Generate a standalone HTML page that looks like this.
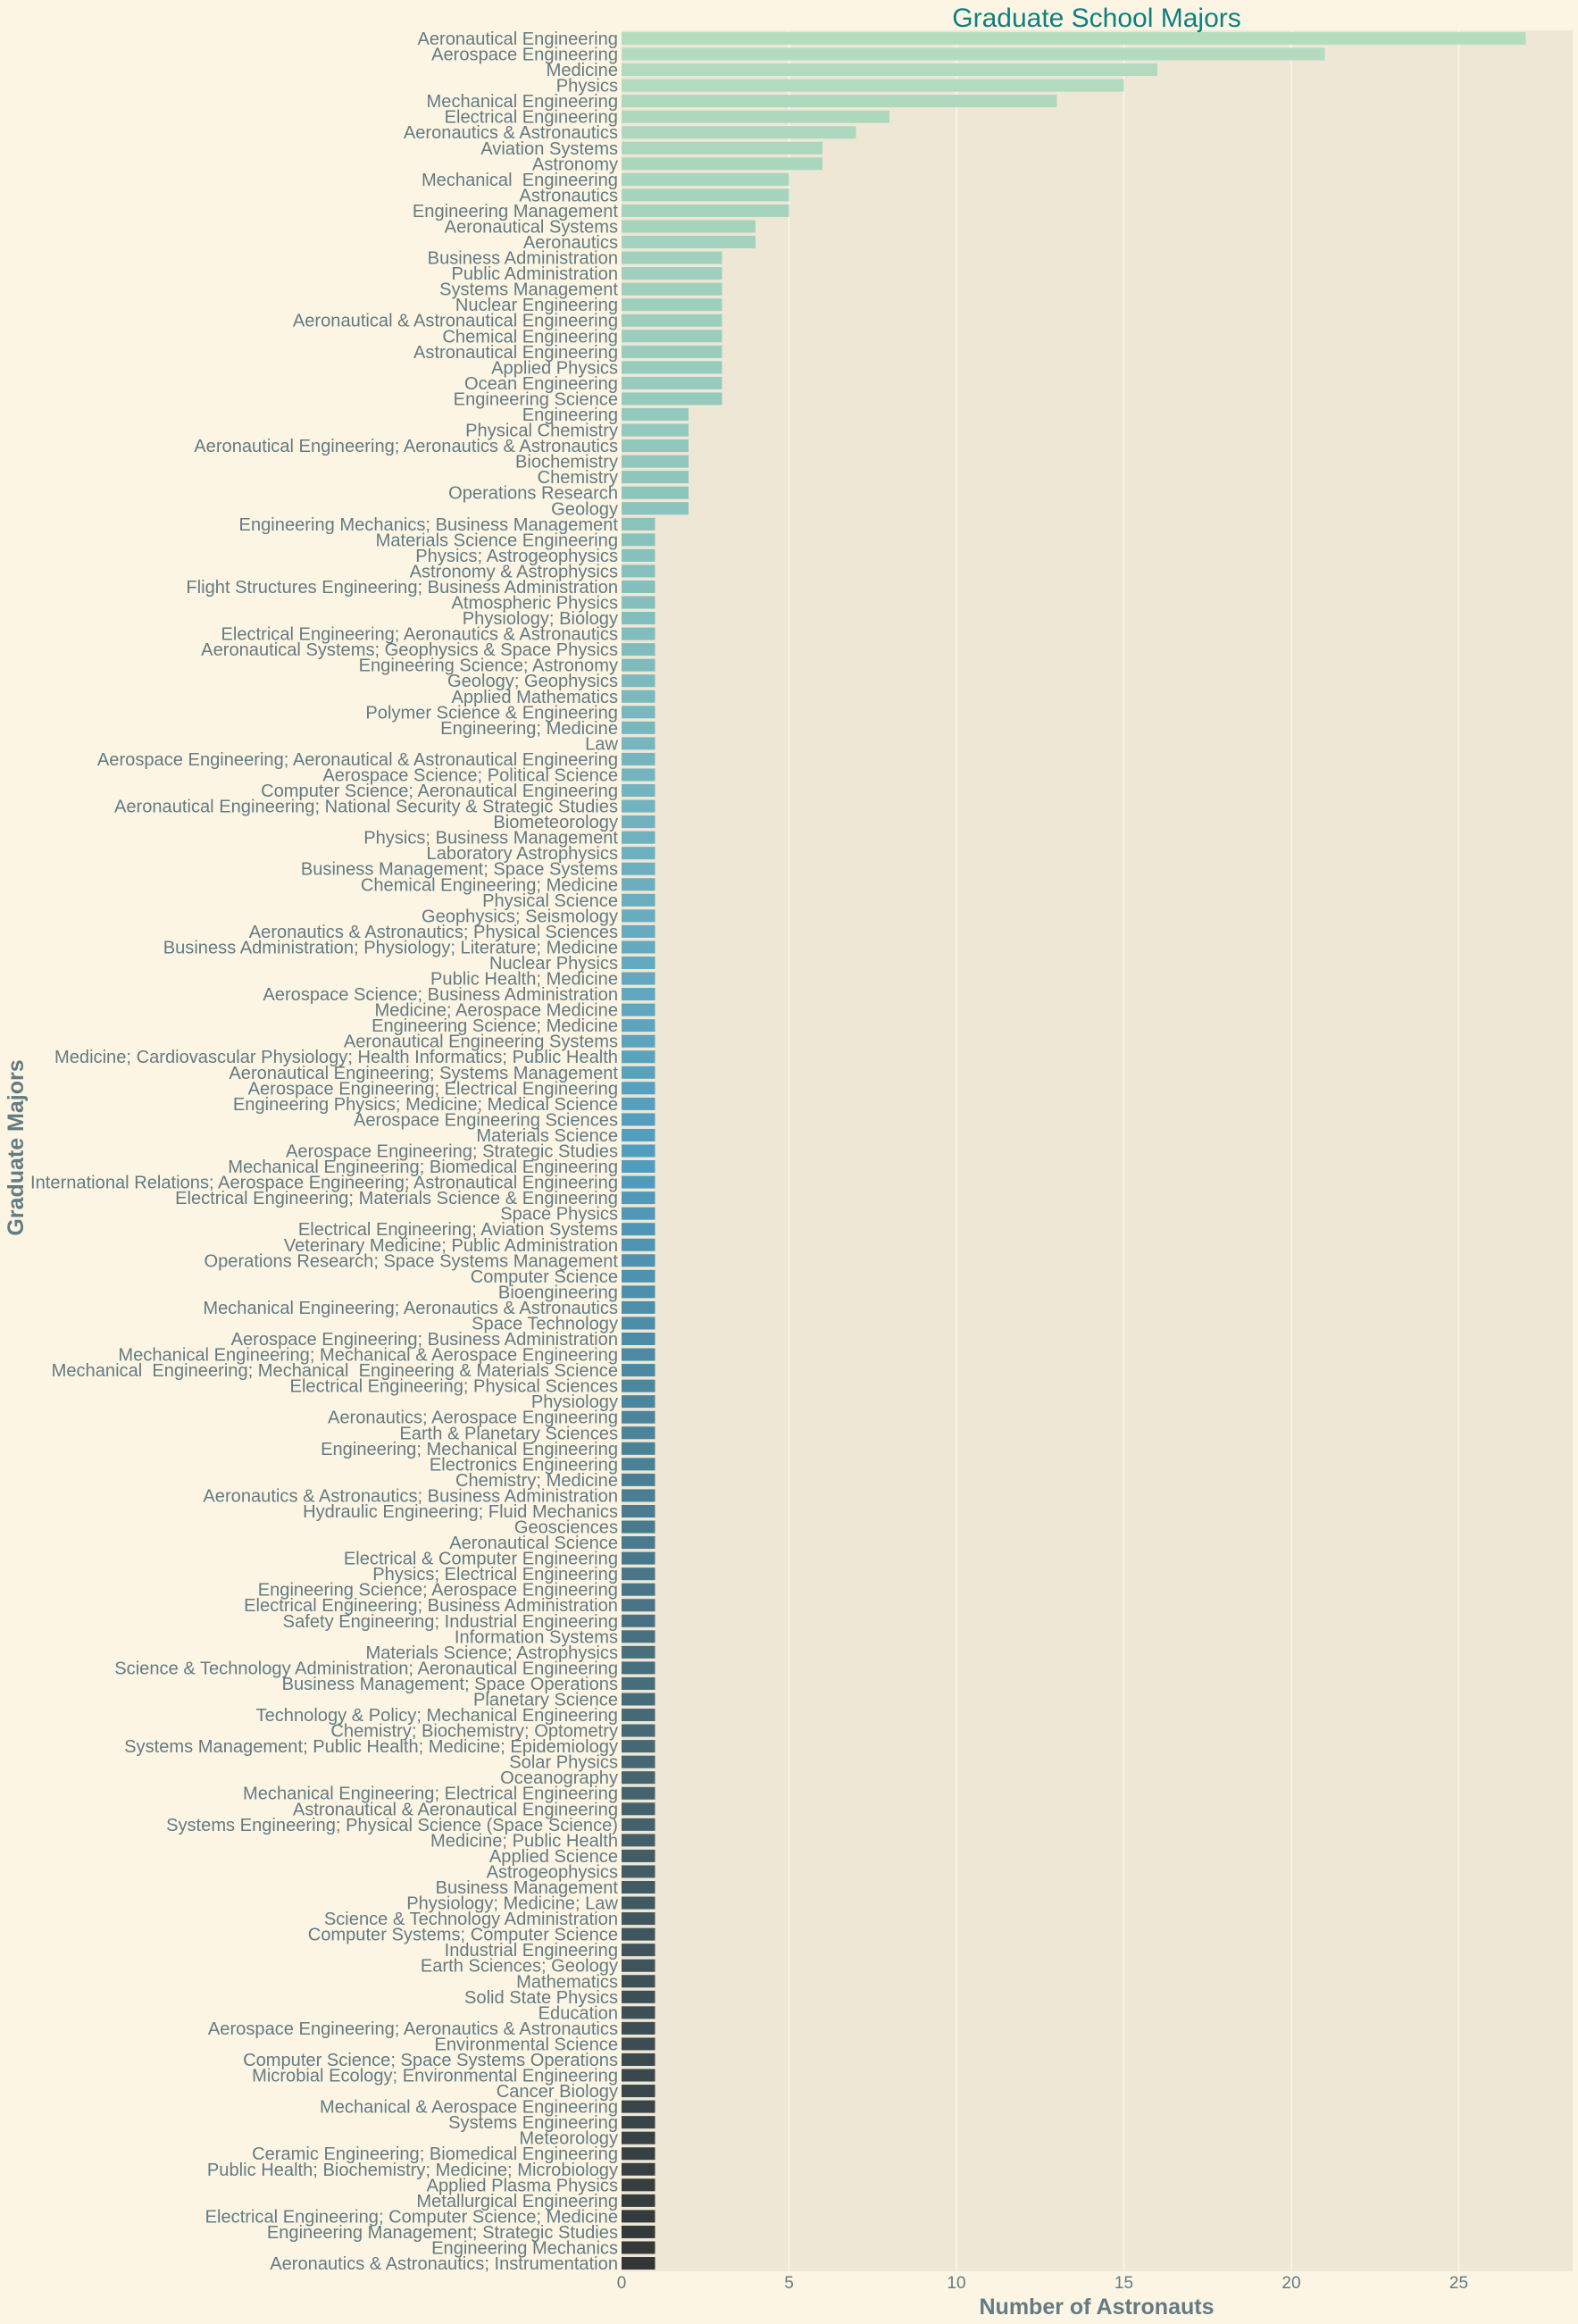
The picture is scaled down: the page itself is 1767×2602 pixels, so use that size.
<!DOCTYPE html>
<html><head><meta charset="utf-8"><title>Graduate School Majors</title>
<style>
html,body{margin:0;padding:0;background:#fdf5e3;}
svg{display:block;font-family:"Liberation Sans",sans-serif;}
</style></head>
<body>
<svg id="chart" width="1767" height="2602" viewBox="0 0 1767 2602" xmlns="http://www.w3.org/2000/svg">
<rect x="0" y="0" width="1767" height="2602" fill="#fdf5e3"/>
<rect id="plotbg" x="696" y="34" width="1065" height="2509" fill="#eee7d6"/>
<g id="grid"></g>
<g id="bars"></g>
<g id="ylabels"></g>
<g id="xlabels"></g>
<text x="1228" y="30" text-anchor="middle" font-size="30" fill="#0e8080">Graduate School Majors</text>
<text x="1228" y="2591" text-anchor="middle" font-size="25" font-weight="bold" fill="#627b84">Number of Astronauts</text>
<text transform="translate(26,1285) rotate(-90)" text-anchor="middle" font-size="25" font-weight="bold" fill="#627b84">Graduate Majors</text>
</svg>
<script>
const categories = ["Aeronautical Engineering","Aerospace Engineering","Medicine","Physics","Mechanical Engineering","Electrical Engineering","Aeronautics & Astronautics","Aviation Systems","Astronomy","Mechanical  Engineering","Astronautics","Engineering Management","Aeronautical Systems","Aeronautics","Business Administration","Public Administration","Systems Management","Nuclear Engineering","Aeronautical & Astronautical Engineering","Chemical Engineering","Astronautical Engineering","Applied Physics","Ocean Engineering","Engineering Science","Engineering","Physical Chemistry","Aeronautical Engineering; Aeronautics & Astronautics","Biochemistry","Chemistry","Operations Research","Geology","Engineering Mechanics; Business Management","Materials Science Engineering","Physics; Astrogeophysics","Astronomy & Astrophysics","Flight Structures Engineering; Business Administration","Atmospheric Physics","Physiology; Biology","Electrical Engineering; Aeronautics & Astronautics","Aeronautical Systems; Geophysics & Space Physics","Engineering Science; Astronomy","Geology; Geophysics","Applied Mathematics","Polymer Science & Engineering","Engineering; Medicine","Law","Aerospace Engineering; Aeronautical & Astronautical Engineering","Aerospace Science; Political Science","Computer Science; Aeronautical Engineering","Aeronautical Engineering; National Security & Strategic Studies","Biometeorology","Physics; Business Management","Laboratory Astrophysics","Business Management; Space Systems","Chemical Engineering; Medicine","Physical Science","Geophysics; Seismology","Aeronautics & Astronautics; Physical Sciences","Business Administration; Physiology; Literature; Medicine","Nuclear Physics","Public Health; Medicine","Aerospace Science; Business Administration","Medicine; Aerospace Medicine","Engineering Science; Medicine","Aeronautical Engineering Systems","Medicine; Cardiovascular Physiology; Health Informatics; Public Health","Aeronautical Engineering; Systems Management","Aerospace Engineering; Electrical Engineering","Engineering Physics; Medicine; Medical Science","Aerospace Engineering Sciences","Materials Science","Aerospace Engineering; Strategic Studies","Mechanical Engineering; Biomedical Engineering","International Relations; Aerospace Engineering; Astronautical Engineering","Electrical Engineering; Materials Science & Engineering","Space Physics","Electrical Engineering; Aviation Systems","Veterinary Medicine; Public Administration","Operations Research; Space Systems Management","Computer Science","Bioengineering","Mechanical Engineering; Aeronautics & Astronautics","Space Technology","Aerospace Engineering; Business Administration","Mechanical Engineering; Mechanical & Aerospace Engineering","Mechanical  Engineering; Mechanical  Engineering & Materials Science","Electrical Engineering; Physical Sciences","Physiology","Aeronautics; Aerospace Engineering","Earth & Planetary Sciences","Engineering; Mechanical Engineering","Electronics Engineering","Chemistry; Medicine","Aeronautics & Astronautics; Business Administration","Hydraulic Engineering; Fluid Mechanics","Geosciences","Aeronautical Science","Electrical & Computer Engineering","Physics; Electrical Engineering","Engineering Science; Aerospace Engineering","Electrical Engineering; Business Administration","Safety Engineering; Industrial Engineering","Information Systems","Materials Science; Astrophysics","Science & Technology Administration; Aeronautical Engineering","Business Management; Space Operations","Planetary Science","Technology & Policy; Mechanical Engineering","Chemistry; Biochemistry; Optometry","Systems Management; Public Health; Medicine; Epidemiology","Solar Physics","Oceanography","Mechanical Engineering; Electrical Engineering","Astronautical & Aeronautical Engineering","Systems Engineering; Physical Science (Space Science)","Medicine; Public Health","Applied Science","Astrogeophysics","Business Management","Physiology; Medicine; Law","Science & Technology Administration","Computer Systems; Computer Science","Industrial Engineering","Earth Sciences; Geology","Mathematics","Solid State Physics","Education","Aerospace Engineering; Aeronautics & Astronautics","Environmental Science","Computer Science; Space Systems Operations","Microbial Ecology; Environmental Engineering","Cancer Biology","Mechanical & Aerospace Engineering","Systems Engineering","Meteorology","Ceramic Engineering; Biomedical Engineering","Public Health; Biochemistry; Medicine; Microbiology","Applied Plasma Physics","Metallurgical Engineering","Electrical Engineering; Computer Science; Medicine","Engineering Management; Strategic Studies","Engineering Mechanics","Aeronautics & Astronautics; Instrumentation"];
const topCounts = [27,21,16,15,13,8,7,6,6,5,5,5,4,4,3,3,3,3,3,3,3,3,3,3,2,2,2,2,2,2,2];
const values = categories.map((c,i)=> i < topCounts.length ? topCounts[i] : 1);
const xTicks = [0,5,10,15,20,25];

const NS = "http://www.w3.org/2000/svg";
const plotL = 696, plotR = 1761, plotT = 34.2, plotB = 2542.8, xMax = 28.4;
const band = (plotB - plotT) / categories.length;
function xScale(v){ return plotL + v / xMax * (plotR - plotL); }
function yBand(i){ return plotT + i * band; }

const stops = [[0,[181,220,191]],[27,[143,199,188]],[55,[105,173,191]],[72,[80,156,190]],[85,[75,137,162]],[112,[69,99,110]],[142,[51,54,55]]];
function colorAt(i){
  for (let k=0;k<stops.length-1;k++){
    const a=stops[k], b=stops[k+1];
    if (i<=b[0]){ const t=(i-a[0])/(b[0]-a[0]); const c=a[1].map((v,j)=>Math.round(v+(b[1][j]-v)*t)); return `rgb(${c[0]},${c[1]},${c[2]})`; }
  }
  return "rgb(51,54,55)";
}

const grid = document.getElementById('grid');
const xl = document.getElementById('xlabels');
xTicks.forEach(t=>{
  const x = xScale(t);
  if (t>0){
    const l = document.createElementNS(NS,'line');
    
    
    l.setAttribute('x1',x); l.setAttribute('x2',x); l.setAttribute('y1',plotT); l.setAttribute('y2',plotB);
    l.setAttribute('stroke','#fbf6ea'); l.setAttribute('stroke-width','1.5');
    grid.appendChild(l);
  }
  const tx = document.createElementNS(NS,'text');
  
  
  tx.setAttribute('x',x); tx.setAttribute('y',2562); tx.setAttribute('text-anchor','middle');
  tx.setAttribute('font-size','19'); tx.setAttribute('fill','#627b84');
  tx.textContent = t;
  xl.appendChild(tx);
});

const bars = document.getElementById('bars');
const yl = document.getElementById('ylabels');
categories.forEach((c,i)=>{
  const y0 = yBand(i);
  const r = document.createElementNS(NS,'rect');
  
  
  r.setAttribute('x',xScale(0)); r.setAttribute('y',y0 + band*0.1);
  r.setAttribute('width',xScale(values[i])-xScale(0)); r.setAttribute('height',band*0.8);
  r.setAttribute('fill',colorAt(i));
  bars.appendChild(r);
  const t = document.createElementNS(NS,'text');
  
  
  t.setAttribute('x',692); t.setAttribute('y',y0 + band/2 + 7);
  t.setAttribute('text-anchor','end'); t.setAttribute('font-size','20.1'); t.setAttribute('fill','#627b84');
  t.setAttribute('xml:space','preserve');
  t.style.whiteSpace='pre';
  t.textContent = c;
  yl.appendChild(t);
});
</script>
</body></html>
